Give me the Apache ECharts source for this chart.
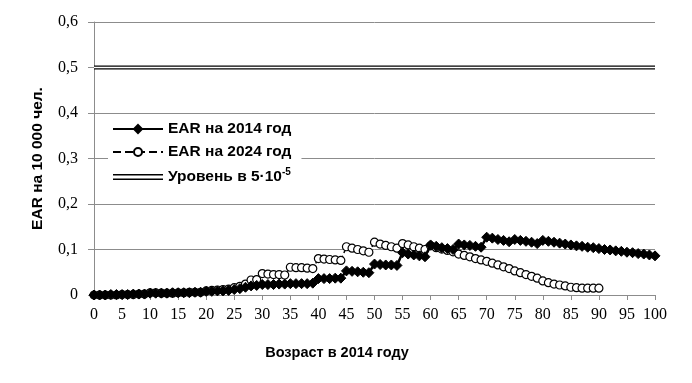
<!DOCTYPE html>
<html>
<head>
<meta charset="utf-8">
<script src="https://cdn.jsdelivr.net/npm/echarts@6/dist/echarts.min.js"></script>
<style>
  html, body { margin: 0; padding: 0; background: #fff; }
  #chart { width: 692px; height: 383px; }
</style>
</head>
<body>
<div id="chart"></div>
<script>
// EAR per 10 000 people, by age in 2014 (age index = position in array)
var ear2014 = [
  0, 0, 0, 0.001, 0.001, 0.001, 0.001, 0.002, 0.002, 0.002,
  0.004, 0.004, 0.004, 0.004, 0.005, 0.005, 0.005, 0.005, 0.006, 0.006,
  0.008, 0.008, 0.009, 0.009, 0.010, 0.012, 0.014, 0.017, 0.020, 0.021,
  0.023, 0.023, 0.023, 0.024, 0.024, 0.025, 0.025, 0.025, 0.025, 0.026,
  0.036, 0.036, 0.036, 0.037, 0.037, 0.053, 0.052, 0.051, 0.050, 0.049,
  0.068, 0.067, 0.066, 0.066, 0.065, 0.093, 0.090, 0.088, 0.086, 0.084,
  0.110, 0.107, 0.104, 0.102, 0.100, 0.112, 0.110, 0.109, 0.107, 0.105,
  0.127, 0.125, 0.122, 0.120, 0.117, 0.122, 0.120, 0.118, 0.116, 0.113,
  0.120, 0.118, 0.116, 0.114, 0.112, 0.110, 0.108, 0.107, 0.105, 0.104,
  0.102, 0.100, 0.099, 0.097, 0.096, 0.094, 0.093, 0.091, 0.090, 0.088,
  0.086
];
var ear2024 = [
  0, 0, 0, 0, 0, 0.001, 0.001, 0.001, 0.002, 0.002,
  0.005, 0.005, 0.004, 0.004, 0.004, 0.005, 0.005, 0.006, 0.006, 0.006,
  0.009, 0.010, 0.011, 0.012, 0.013, 0.016, 0.019, 0.024, 0.033, 0.034,
  0.047, 0.046, 0.045, 0.045, 0.044, 0.061, 0.060, 0.060, 0.059, 0.058,
  0.080, 0.079, 0.078, 0.077, 0.076, 0.106, 0.103, 0.100, 0.097, 0.094,
  0.116, 0.112, 0.109, 0.106, 0.103, 0.113, 0.110, 0.106, 0.103, 0.100,
  0.108, 0.104, 0.101, 0.098, 0.095, 0.090, 0.087, 0.084, 0.080, 0.077,
  0.074, 0.070, 0.066, 0.062, 0.058, 0.053, 0.049, 0.045, 0.041, 0.037,
  0.031, 0.027, 0.024, 0.022, 0.020, 0.017, 0.016, 0.015, 0.015, 0.015,
  0.015
];
var levelValue = 0.5;
var levelSpan = [0, 100];
var seriesNames = ['EAR на 2014 год', 'EAR на 2024 год', 'Уровень в 5·10-5'];

function toPairs(values) {
  return values.map(function (v, age) {
    return [age, v];
  });
}

var chartDom = document.getElementById('chart');
var myChart = echarts.init(chartDom);

var labelFont = '"Liberation Serif", "DejaVu Serif", serif';
var boldFont = '"Liberation Sans", Arial, sans-serif';

var option = {
  animation: false,
  backgroundColor: '#fff',
  grid: {
    left: 94,
    right: 37,
    top: 22,
    bottom: 88
  },
  legend: {
    orient: 'vertical',
    left: 108,
    top: 119,
    itemWidth: 50,
    itemHeight: 10,
    itemGap: 7,
    backgroundColor: '#fff',
    padding: [2, 10, 2, 4],
    textStyle: {
      color: '#000',
      fontFamily: boldFont,
      fontWeight: 'bold',
      fontSize: 15.5,
      rich: {
        t: { fontFamily: boldFont, fontWeight: 'bold', fontSize: 15.5, color: '#000' },
        s: { fontFamily: boldFont, fontWeight: 'bold', fontSize: 10, color: '#000', padding: [0, 0, 10, 0] }
      }
    },
    formatter: function (name) {
      if (name === seriesNames[2]) {
        return '{t|Уровень в 5·10}{s|-5}';
      }
      return name;
    }
  },
  xAxis: {
    type: 'value',
    min: 0,
    max: 100,
    interval: 5,
    name: 'Возраст в 2014 году',
    nameLocation: 'middle',
    nameGap: 50,
    nameTextStyle: {
      color: '#000',
      fontFamily: boldFont,
      fontWeight: 'bold',
      fontSize: 14.5,
      padding: [0, 75, 0, 0]
    },
    axisLine: { lineStyle: { color: '#8c8c8c', width: 1 } },
    axisTick: { show: true, length: 5, lineStyle: { color: '#8c8c8c' } },
    axisLabel: {
      color: '#000',
      fontFamily: labelFont,
      fontSize: 16,
      margin: 12
    },
    splitLine: { show: false }
  },
  yAxis: {
    type: 'value',
    min: 0,
    max: 0.6,
    interval: 0.1,
    name: 'EAR на 10 000 чел.',
    nameLocation: 'middle',
    nameGap: 48,
    nameTextStyle: {
      color: '#000',
      fontFamily: boldFont,
      fontWeight: 'bold',
      fontSize: 15.5
    },
    axisLine: { show: true, lineStyle: { color: '#8c8c8c', width: 1 } },
    axisTick: { show: true, length: 6, lineStyle: { color: '#8c8c8c' } },
    axisLabel: {
      color: '#000',
      fontFamily: labelFont,
      fontSize: 16,
      margin: 16,
      formatter: function (v) {
        return String(Math.round(v * 10) / 10).replace('.', ',');
      }
    },
    splitLine: { show: true, lineStyle: { color: '#8c8c8c', width: 1 } }
  },
  series: [
    {
      name: seriesNames[2],
      type: 'line',
      data: [[levelSpan[0], levelValue], [levelSpan[1], levelValue]],
      symbol: 'none',
      lineStyle: { color: '#000', width: 4 },
      itemStyle: { color: '#000' },
      z: 2
    },
    {
      name: 'level-inner',
      type: 'line',
      data: [[levelSpan[0], levelValue], [levelSpan[1], levelValue]],
      symbol: 'none',
      lineStyle: { color: '#fff', width: 1.5 },
      silent: true,
      z: 3
    },
    {
      name: seriesNames[1],
      type: 'line',
      data: toPairs(ear2024),
      symbol: 'circle',
      symbolSize: 8,
      lineStyle: { color: '#000', width: 1.5, type: 'dashed' },
      itemStyle: { color: '#fff', borderColor: '#000', borderWidth: 1.2 },
      z: 4
    },
    {
      name: seriesNames[0],
      type: 'line',
      data: toPairs(ear2014),
      symbol: 'diamond',
      symbolSize: 10,
      lineStyle: { color: '#000', width: 2.5 },
      itemStyle: { color: '#000', borderColor: '#000', borderWidth: 1 },
      z: 5
    }
  ]
};

// legend order and the double-line icon
option.legend.data = [
  { name: seriesNames[0] },
  { name: seriesNames[1] },
  { name: seriesNames[2], icon: 'path://M0,0H50V1.6H0Z M0,4.4H50V6H0Z', itemStyle: { color: '#000' } }
];

myChart.setOption(option);
window.addEventListener('resize', function () { myChart.resize(); });
</script>
</body>
</html>
